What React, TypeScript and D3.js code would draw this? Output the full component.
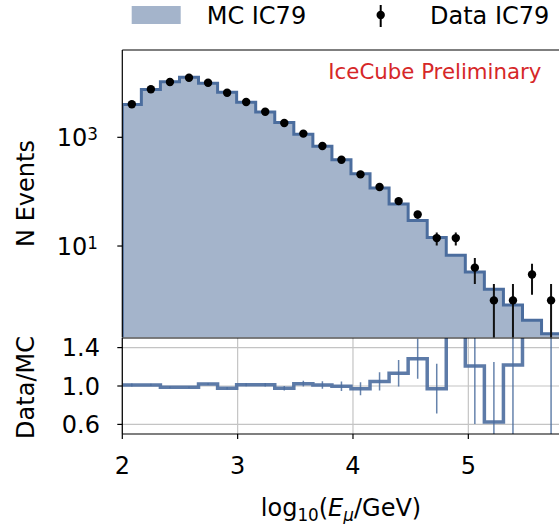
import React from 'react';
import * as d3 from 'd3';

// log10(E/GeV) bin edges, 23 bins from 2 to 5.8
const binEdges = [
  2.0, 2.1652, 2.3304, 2.4957, 2.6609, 2.8261, 2.9913, 3.1565, 3.3217, 3.487,
  3.6522, 3.8174, 3.9826, 4.1478, 4.313, 4.4783, 4.6435, 4.8087, 4.9739,
  5.1391, 5.3043, 5.4696, 5.6348, 5.8,
];

// simulated counts per bin
const mcCounts = [
  4010, 7560, 10550, 12680, 9900, 6780, 4410, 2920, 1875, 1143, 685, 388, 214,
  116.4, 59.2, 29.6, 14.4, 6.8, 3.31, 1.6, 0.82, 0.43, 0.243,
];

// observed counts per bin
const dataCounts = [
  4050, 7640, 10400, 12500, 10100, 6620, 4470, 2960, 1830, 1170, 692, 387, 208,
  122, 67, 38, 14, 14, 4, 1, 1, 3, 1,
];

const xTicks = [2, 3, 4, 5];
const countTickExps = [1, 3];
const ratioTicks = [0.6, 1.0, 1.4];

const App = () => {
  const width = 559;
  const height = 524;
  const font = 'DejaVu Sans';
  const blue = '#4b6d9e';
  const fillBlue = '#a4b4cb';
  const grid = '#c4c4c4';
  const m = { left: 122.3, right: 560.6, top: 50, split: 337.5, ratioTop: 338, bottom: 434 };

  const x = d3.scaleLinear().domain([2, 5.8]).range([m.left, m.right]);
  const y = d3.scaleLog().domain([0.2075, 40400]).range([m.split, m.top]);
  const yr = d3.scaleLinear().domain([0.5, 1.5]).range([m.bottom, m.ratioTop]);

  const nb = mcCounts.length;
  const centers = mcCounts.map((_, i) => (binEdges[i] + binEdges[i + 1]) / 2);
  const yMin = y.domain()[0];

  const mcPts: [number, number][] = mcCounts.map((v, i) => [binEdges[i], v]);
  mcPts.push([binEdges[nb], mcCounts[nb - 1]]);

  const stepLine = d3
    .line<[number, number]>()
    .x(d => x(d[0]))
    .y(d => y(d[1]))
    .curve(d3.curveStepAfter);
  const stepArea = d3
    .area<[number, number]>()
    .x(d => x(d[0]))
    .y0(m.split)
    .y1(d => y(d[1]))
    .curve(d3.curveStepAfter);

  const mcLine = stepLine([[binEdges[0], yMin], ...mcPts, [binEdges[nb], yMin]]);
  const mcFill = stepArea(mcPts);

  const ratio = dataCounts.map((d, i) => d / mcCounts[i]);
  const ratioPts: [number, number][] = ratio.map((v, i) => [binEdges[i], v]);
  ratioPts.push([binEdges[nb], ratio[nb - 1]]);
  const ratioLine = d3
    .line<[number, number]>()
    .x(d => x(d[0]))
    .y(d => yr(Math.min(Math.max(d[1], -5), 20)))
    .curve(d3.curveStepAfter)(ratioPts);

  return (
    <svg
      width={width}
      height={height}
      style={{ position: 'absolute', left: 0, top: 0, background: '#fff' }}
      fontFamily={font}
    >
      <defs>
        <clipPath id='upperClip'>
          <rect x={m.left} y={m.top} width={m.right - m.left} height={m.split - m.top} />
        </clipPath>
        <clipPath id='lowerClip'>
          <rect x={m.left} y={m.ratioTop} width={m.right - m.left} height={m.bottom - m.ratioTop} />
        </clipPath>
      </defs>

      {/* legend */}
      <rect x={131.7} y={6} width={49} height={18} fill={fillBlue} />
      <text x={206.7} y={24} fontSize={24}>MC IC79</text>
      <line x1={380.7} x2={380.7} y1={5} y2={27} stroke='#000' strokeWidth={2} />
      <circle cx={380.7} cy={15} r={4.2} fill='#000' />
      <text x={430} y={24} fontSize={24}>Data IC79</text>

      {/* upper panel */}
      <g clipPath='url(#upperClip)'>
        <path d={mcFill || ''} fill={fillBlue} />
        <path d={mcLine || ''} fill='none' stroke={blue} strokeWidth={3} />
        {dataCounts.map((d, i) => {
          const err = Math.sqrt(d);
          const lo = d - err > 0 ? y(d - err) : m.split + 5;
          return (
            <line
              key={`err-${i}`}
              x1={x(centers[i])}
              x2={x(centers[i])}
              y1={lo}
              y2={y(d + err)}
              stroke='#111'
              strokeWidth={2}
            />
          );
        })}
        {dataCounts.map((d, i) => (
          <circle key={`pt-${i}`} cx={x(centers[i])} cy={y(d)} r={4.2} fill='#000' />
        ))}
      </g>
      <text x={328.3} y={79} fontSize={21.3} fill='#d62728'>IceCube Preliminary</text>
      <line x1={m.left} x2={m.left} y1={m.top} y2={m.split} stroke='#000' strokeWidth={1.2} />
      <line x1={m.left} x2={m.right} y1={m.top} y2={m.top} stroke='#000' strokeWidth={1.2} />
      {countTickExps.map(e => (
        <g key={`ct-${e}`}>
          <line x1={m.left - 5} x2={m.left} y1={y(10 ** e)} y2={y(10 ** e)} stroke='#000' strokeWidth={1.2} />
          <text x={98} y={y(10 ** e) + 8.7} fontSize={24} textAnchor='end'>
            10<tspan fontSize={16.8} dy={-6}>{e}</tspan>
          </text>
        </g>
      ))}
      <text transform={`translate(33.5, 193.5) rotate(-90)`} fontSize={24} textAnchor='middle'>
        N Events
      </text>

      {/* ratio panel */}
      {ratioTicks.map(t => (
        <line key={`hg-${t}`} x1={m.left} x2={m.right} y1={yr(t)} y2={yr(t)} stroke={grid} strokeWidth={1.2} />
      ))}
      {xTicks.map(t => (
        <line key={`vg-${t}`} x1={x(t)} x2={x(t)} y1={m.ratioTop} y2={m.bottom} stroke={grid} strokeWidth={1.2} />
      ))}
      <g clipPath='url(#lowerClip)'>
        {ratio.map((r, i) => {
          const e = r / Math.sqrt(dataCounts[i]);
          return (
            <line
              key={`rerr-${i}`}
              x1={x(centers[i])}
              x2={x(centers[i])}
              y1={yr(Math.max(r - e, 0.4))}
              y2={yr(Math.min(r + e, 1.6))}
              stroke={blue}
              strokeOpacity={0.85}
              strokeWidth={1.5}
            />
          );
        })}
        <path d={ratioLine || ''} fill='none' stroke={blue} strokeWidth={3.5} strokeOpacity={0.9} />
      </g>
      <line x1={m.left} x2={m.left} y1={m.ratioTop} y2={m.bottom} stroke='#000' strokeWidth={1.2} />
      <line x1={m.left} x2={m.right} y1={m.ratioTop} y2={m.ratioTop} stroke='#000' strokeWidth={1.2} />
      <line x1={m.left} x2={m.right} y1={m.bottom} y2={m.bottom} stroke='#000' strokeWidth={1.2} />
      {ratioTicks.map(t => (
        <g key={`rt-${t}`}>
          <line x1={m.left - 5} x2={m.left} y1={yr(t)} y2={yr(t)} stroke='#000' strokeWidth={1.2} />
          <text x={100} y={yr(t) + 8.7} fontSize={24} textAnchor='end'>
            {t.toFixed(1)}
          </text>
        </g>
      ))}
      <text transform={`translate(33.5, 387.5) rotate(-90)`} fontSize={24} textAnchor='middle'>
        Data/MC
      </text>

      {/* x axis */}
      {xTicks.map(t => (
        <g key={`xt-${t}`}>
          <line x1={x(t)} x2={x(t)} y1={m.bottom} y2={m.bottom + 5} stroke='#000' strokeWidth={1.2} />
          <text x={x(t)} y={474} fontSize={24} textAnchor='middle'>
            {t}
          </text>
        </g>
      ))}
      <text x={341} y={516} fontSize={24} textAnchor='middle'>
        log<tspan fontSize={16.8} dy={5}>10</tspan>
        <tspan dy={-5}>(</tspan>
        <tspan fontStyle='italic'>E</tspan>
        <tspan fontSize={16.8} fontStyle='italic' dy={5}>μ</tspan>
        <tspan dy={-5}>/GeV)</tspan>
      </text>
    </svg>
  );
};

export default App;
